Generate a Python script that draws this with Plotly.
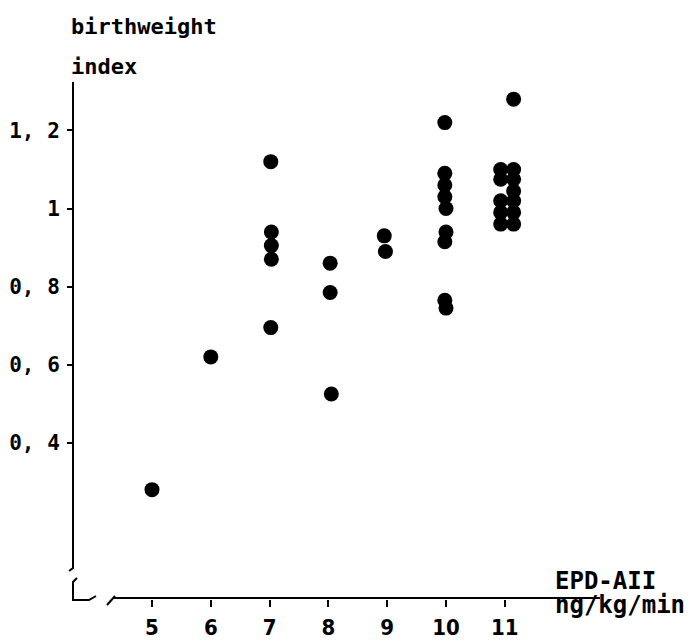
import plotly.graph_objects as go

# Data
epd_x = [5, 6,
         7.02, 7.03, 7.03, 7.03, 7.02,
         8.03, 8.03, 8.05,
         8.95, 8.97,
         9.98, 9.98, 9.98, 9.98, 10.0, 10.0, 9.98, 9.98, 10.0,
         10.93, 10.93, 10.93, 10.93, 10.93,
         11.15, 11.15, 11.15, 11.15, 11.15, 11.15, 11.15]
bw_index = [0.28, 0.62,
            1.12, 0.94, 0.905, 0.87, 0.695,
            0.86, 0.785, 0.525,
            0.93, 0.89,
            1.22, 1.09, 1.06, 1.03, 1.0, 0.94, 0.915, 0.765, 0.745,
            1.10, 1.075, 1.02, 0.99, 0.96,
            1.28, 1.10, 1.075, 1.045, 1.02, 0.99, 0.96]

x_ticks = [5, 6, 7, 8, 9, 10, 11]
x_ticktext = ["5", "6", "7", "8", "9", "10", "11"]
y_ticks = [0.4, 0.6, 0.8, 1.0, 1.2]
y_ticktext = ["0,\u00a04", "0,\u00a06", "0,\u00a08", "1", "1,\u00a02"]

# page offset (body margin of the html page)
OFF = 8
W, H = 698 - OFF, 641 - OFF
# plot area in page pixels
L, R_EDGE, T, B_EDGE = 73, 600, 82, 599
PX_PER_X = 58.8
PX_PER_Y = 390.5

x0 = 5 - (152 - L) / PX_PER_X
x1 = 5 + (R_EDGE - 152) / PX_PER_X
y1 = (B_EDGE - T) / PX_PER_Y

def px(xp):
    return (xp - L) / (R_EDGE - L)

def py(yp):
    return (B_EDGE - yp) / (B_EDGE - T)

MONO = "DejaVu Sans Mono"
TICKF = "DejaVu Sans Condensed"
fig = go.Figure()
fig.add_trace(go.Scatter(x=epd_x, y=bw_index, mode="markers",
                         marker=dict(size=15, color="black", line=dict(width=0)),
                         showlegend=False, cliponaxis=False))

line = dict(color="black", width=2)
shapes = [
    dict(type="path", xref="paper", yref="paper",
         path=f"M {px(73)} {py(82)} L {px(73)} {py(568)} L {px(69)} {py(571)}", line=line),
    dict(type="path", xref="paper", yref="paper",
         path=f"M {px(77)} {py(578)} L {px(73)} {py(582)} L {px(73)} {py(600)} L {px(89)} {py(600)} L {px(96)} {py(596)}", line=line),
    dict(type="line", xref="paper", yref="paper",
         x0=px(107), y0=py(605), x1=px(115), y1=py(596), line=line),
    dict(type="line", xref="paper", yref="paper",
         x0=px(113), y0=py(598), x1=px(600), y1=py(598), line=line),
]

def ann(text, xp, yp, size):
    return dict(text=text, x=px(xp), y=py(yp), xref="paper", yref="paper",
                xanchor="left", yanchor="middle", showarrow=False,
                font=dict(family=MONO, size=size, color="black", weight="bold"))

annotations = [
    ann("birthweight", 69, 27, 22),
    ann("index", 69, 67, 22),
    ann("EPD-AII", 553, 581, 24),
    ann("ng/kg/min", 553, 605, 24),
]

fig.update_layout(
    template=None,
    width=W, height=H,
    margin=dict(l=L - OFF, r=W - (R_EDGE - OFF), t=T - OFF, b=H - (B_EDGE - OFF), autoexpand=False),
    paper_bgcolor="white", plot_bgcolor="white",
    shapes=shapes, annotations=annotations,
    xaxis=dict(range=[x0, x1], showgrid=False, zeroline=False, showline=False,
               automargin=False,
               tickmode="array", tickvals=x_ticks, ticktext=x_ticktext,
               ticks="outside", ticklen=7, tickwidth=2, tickcolor="black",
               ticklabelstandoff=2,
               tickfont=dict(family=TICKF, size=22, color="black", weight="bold")),
    yaxis=dict(range=[0, y1], showgrid=False, zeroline=False, showline=False,
               automargin=False,
               tickmode="array", tickvals=y_ticks, ticktext=y_ticktext,
               ticks="outside", ticklen=5, tickwidth=2, tickcolor="black",
               ticklabelstandoff=3,
               tickfont=dict(family=MONO, size=21, color="black", weight="bold")),
)

fig.write_html("out.html")
